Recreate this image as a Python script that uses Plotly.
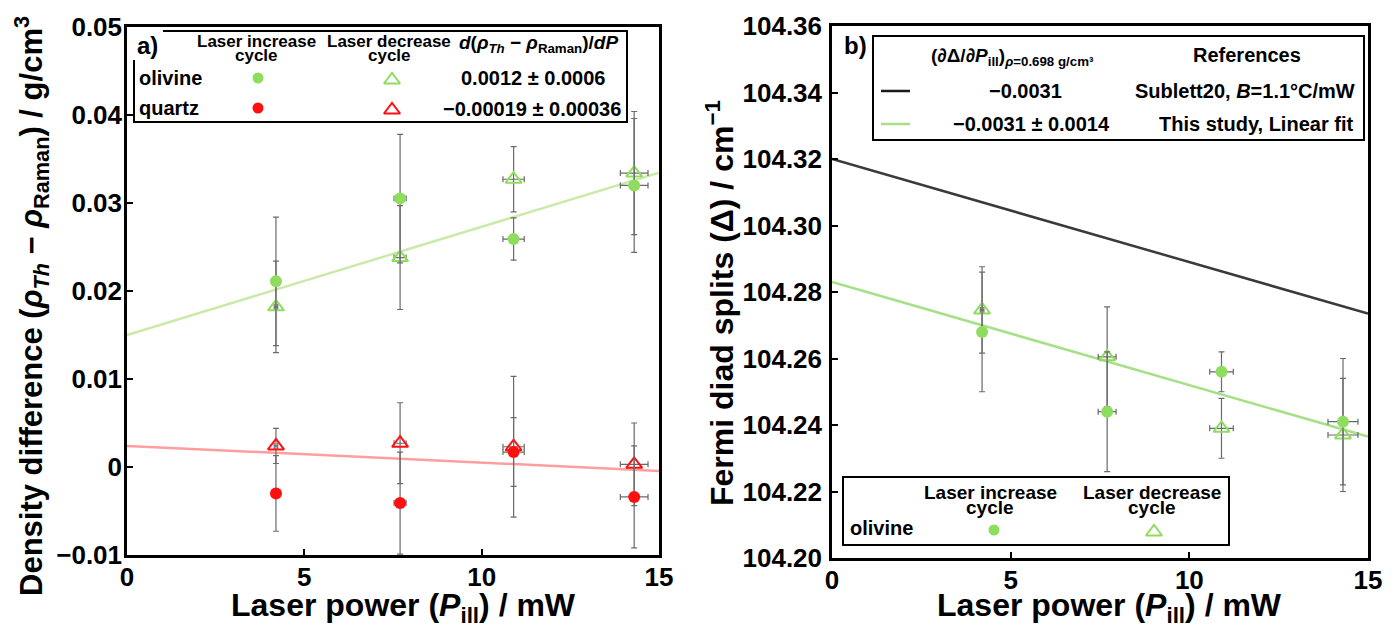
import plotly.graph_objects as go

# ---------------- data ----------------
power = [4.2, 7.7, 10.9, 14.3]
power_err_a = [0.05, 0.17, 0.30, 0.39]
power_err_b = [0.05, 0.25, 0.33, 0.42]

# panel a: density difference (g/cm3)
oliv_inc = [0.0211, 0.0305, 0.0259, 0.0320]
oliv_inc_err = [0.0073, 0.0073, 0.0024, 0.0076]
oliv_dec = [0.0182, 0.0238, 0.0327, 0.0334]
oliv_dec_err = [0.0052, 0.0059, 0.0037, 0.0070]
qtz_inc = [-0.0030, -0.0041, 0.0017, -0.0034]
qtz_inc_err = [0.0043, 0.0058, 0.0039, 0.0058]
qtz_dec = [0.0024, 0.0027, 0.0023, 0.0003]
qtz_dec_err = [0.0020, 0.0046, 0.0080, 0.0047]
oliv_fit = (0.0150, 0.00123)     # intercept, slope
qtz_fit = (0.0024, -0.00019)

# panel b: Fermi diad split (cm-1)
fd_inc = [104.268, 104.244, 104.256, 104.241]
fd_inc_err = [0.018, 0.018, 0.006, 0.019]
fd_dec = [104.2746, 104.2605, 104.239, 104.237]
fd_dec_err = [0.013, 0.015, 0.009, 0.017]
sublett_fit = (104.320, -0.0031)
study_fit = (104.283, -0.0031)
fit_x = [0, 15]

# ---------------- styles ----------------
W, H = 1395, 627
OFF = 8          # page body margin of the html page
FW, FH = W - OFF, H - OFF
FONT = "Liberation Sans, Arial, sans-serif"
GREEN = "#8fdd5e"
GREEN_T = "#8fdd5e"
RED = "#ff1010"
ERR = "#6a6a6a"

def px(x):
    return (x - OFF) / FW

def py(y):
    return 1 - (y - OFF) / FH

def line_y(fit, xs):
    return [fit[0] + fit[1] * x for x in xs]

fig = go.Figure()

def err(arr):
    return dict(type="data", array=arr, color=ERR, thickness=1.2, width=3)

# ---- panel a ----
fig.add_trace(go.Scatter(x=fit_x, y=line_y(oliv_fit, fit_x), mode="lines",
                         line=dict(color="#c9eaa9", width=2.5), xaxis="x", yaxis="y"))
fig.add_trace(go.Scatter(x=fit_x, y=line_y(qtz_fit, fit_x), mode="lines",
                         line=dict(color="#ff9e9e", width=2.5), xaxis="x", yaxis="y"))
fig.add_trace(go.Scatter(x=power, y=oliv_dec, mode="markers", xaxis="x", yaxis="y",
                         error_y=err(oliv_dec_err), error_x=err(power_err_a),
                         marker=dict(symbol="triangle-up-open", size=14, color=GREEN_T,
                                     line=dict(width=2, color=GREEN_T))))
fig.add_trace(go.Scatter(x=power, y=qtz_dec, mode="markers", xaxis="x", yaxis="y",
                         error_y=err(qtz_dec_err), error_x=err(power_err_a),
                         marker=dict(symbol="triangle-up-open", size=14, color=RED,
                                     line=dict(width=2, color=RED))))
fig.add_trace(go.Scatter(x=power, y=oliv_inc, mode="markers", xaxis="x", yaxis="y",
                         error_y=err(oliv_inc_err), error_x=err(power_err_a),
                         marker=dict(symbol="circle", size=12, color=GREEN)))
fig.add_trace(go.Scatter(x=power, y=qtz_inc, mode="markers", xaxis="x", yaxis="y",
                         error_y=err(qtz_inc_err), error_x=err(power_err_a),
                         marker=dict(symbol="circle", size=12, color=RED)))

# ---- panel b ----
fig.add_trace(go.Scatter(x=fit_x, y=line_y(sublett_fit, fit_x), mode="lines",
                         line=dict(color="#3a3a3a", width=2.5), xaxis="x2", yaxis="y2"))
fig.add_trace(go.Scatter(x=fit_x, y=line_y(study_fit, fit_x), mode="lines",
                         line=dict(color="#a6e086", width=2.5), xaxis="x2", yaxis="y2"))
fig.add_trace(go.Scatter(x=power, y=fd_dec, mode="markers", xaxis="x2", yaxis="y2",
                         error_y=err(fd_dec_err), error_x=err(power_err_b),
                         marker=dict(symbol="triangle-up-open", size=14, color=GREEN_T,
                                     line=dict(width=2, color=GREEN_T))))
fig.add_trace(go.Scatter(x=power, y=fd_inc, mode="markers", xaxis="x2", yaxis="y2",
                         error_y=err(fd_inc_err), error_x=err(power_err_b),
                         marker=dict(symbol="circle", size=12, color=GREEN)))

# ---- legend symbols on a pixel overlay axis ----
fig.add_trace(go.Scatter(x=[258, 994, 258], y=[78, 530, 108], mode="markers",
                         xaxis="x3", yaxis="y3",
                         marker=dict(symbol="circle", size=11, color=[GREEN, GREEN, RED])))
fig.add_trace(go.Scatter(x=[392, 1154, 392], y=[80, 532, 110], mode="markers",
                         xaxis="x3", yaxis="y3",
                         marker=dict(symbol="triangle-up-open", size=14,
                                     color=[GREEN_T, GREEN_T, RED],
                                     line=dict(width=2, color=[GREEN_T, GREEN_T, RED]))))

# ---------------- axes ----------------
tickfont = dict(family=FONT, size=26, color="black", weight="bold")
common = dict(showline=True, linewidth=2.5, linecolor="black", mirror=True,
              ticks="inside", ticklen=6, tickwidth=2, tickcolor="black",
              showgrid=False, zeroline=False, tickfont=tickfont, automargin=False)

fig.update_layout(
    width=FW, height=FH,
    margin=dict(l=0, r=0, t=0, b=0),
    paper_bgcolor="white", plot_bgcolor="rgba(0,0,0,0)",
    showlegend=False,
    xaxis=dict(domain=[px(127), px(659)], range=[0, 15], dtick=5, anchor="y",
               ticklabelstandoff=-3, **common),
    yaxis=dict(domain=[py(555), py(27)], range=[-0.01, 0.05], dtick=0.01, anchor="x",
               ticklabelstandoff=-3, **common),
    xaxis2=dict(domain=[px(832), px(1368)], range=[0, 15], dtick=5, anchor="y2",
                ticklabelstandoff=-3, **common),
    yaxis2=dict(domain=[py(558), py(26)], range=[104.20, 104.36], dtick=0.02,
                tickformat=".2f", anchor="x2", ticklabelstandoff=2, **common),
    xaxis3=dict(domain=[0, 1], range=[OFF, W], visible=False, anchor="y3"),
    yaxis3=dict(domain=[0, 1], range=[H, OFF], visible=False, anchor="x3"),
)

# ---------------- text ----------------
ann = []

def txt(x, y, s, size, xanchor="center", angle=0, bg=None):
    d = dict(x=px(x), y=py(y), xref="paper", yref="paper", text=s, showarrow=False,
             xanchor=xanchor, yanchor="middle", textangle=angle,
             font=dict(family=FONT, size=size, color="black", weight="bold"))
    if bg:
        d["bgcolor"] = bg
    ann.append(d)

# axis titles
txt(32, 306, "Density difference (<i>ρ</i><sub><i>Th</i></sub> − <i>ρ</i><sub>Raman</sub>) / g/cm<sup>3</sup>",
    31, angle=-90)
txt(720, 303, "Fermi diad splits (Δ) / cm<sup>−1</sup>", 32, angle=-90)
txt(403, 607, "Laser power (<i>P</i><sub>ill</sub>) / mW", 32)
txt(1109, 607, "Laser power (<i>P</i><sub>ill</sub>) / mW", 32)

# panel a legend
txt(147, 45, "a)", 24, bg="white")
txt(256, 41, "Laser increase", 17)
txt(256, 56, "cycle", 17)
txt(389, 41, "Laser decrease", 17)
txt(389, 56, "cycle", 17)
txt(538, 44, "<i>d</i>(<i>ρ</i><sub><i>Th</i></sub> − <i>ρ</i><sub>Raman</sub>)/<i>dP</i>", 19)
txt(137, 78, "olivine", 20, xanchor="left")
txt(137, 108, "quartz", 20, xanchor="left")
txt(533, 78, "0.0012 ± 0.0006", 20)
txt(532, 109, "−0.00019 ± 0.00036", 20)

# panel b legend (top)
txt(855, 46, "b)", 24)
txt(1012, 57, "(∂Δ/∂<i>P</i><sub>ill</sub>)<sub><i>ρ</i>=0.698 g/cm³</sub>", 19)
txt(1247, 55, "References", 20)
txt(1025, 91, "−0.0031", 20)
txt(1245, 91, "Sublett20, <i>B</i>=1.1°C/mW", 20)
txt(1031, 124, "−0.0031 ± 0.0014", 20)
txt(1256, 124, "This study, Linear fit", 20)

# panel b legend (bottom)
txt(990, 492, "Laser increase", 19)
txt(990, 507, "cycle", 19)
txt(1152, 492, "Laser decrease", 19)
txt(1152, 507, "cycle", 19)
txt(848, 528, "olivine", 20, xanchor="left")

fig.update_layout(annotations=ann)

# ---------------- boxes ----------------
shapes = []
box_a = "M {} {} L {} {} L {} {} L {} {} L {} {}".format(
    px(163), py(31), px(627), py(31), px(627), py(122), px(134), py(122), px(134), py(60))
shapes.append(dict(type="path", path=box_a, xref="paper", yref="paper",
                   line=dict(color="black", width=2)))
shapes.append(dict(type="rect", xref="paper", yref="paper",
                   x0=px(873), x1=px(1364), y0=py(140), y1=py(36),
                   line=dict(color="black", width=2)))
shapes.append(dict(type="rect", xref="paper", yref="paper",
                   x0=px(843), x1=px(1229), y0=py(545), y1=py(477),
                   line=dict(color="black", width=2)))
shapes.append(dict(type="line", xref="paper", yref="paper",
                   x0=px(881), x1=px(910), y0=py(91), y1=py(91),
                   line=dict(color="#1a1a1a", width=2.5)))
shapes.append(dict(type="line", xref="paper", yref="paper",
                   x0=px(881), x1=px(910), y0=py(124), y1=py(124),
                   line=dict(color="#a6e086", width=2.5)))
fig.update_layout(shapes=shapes)

fig.write_html("out.html")
